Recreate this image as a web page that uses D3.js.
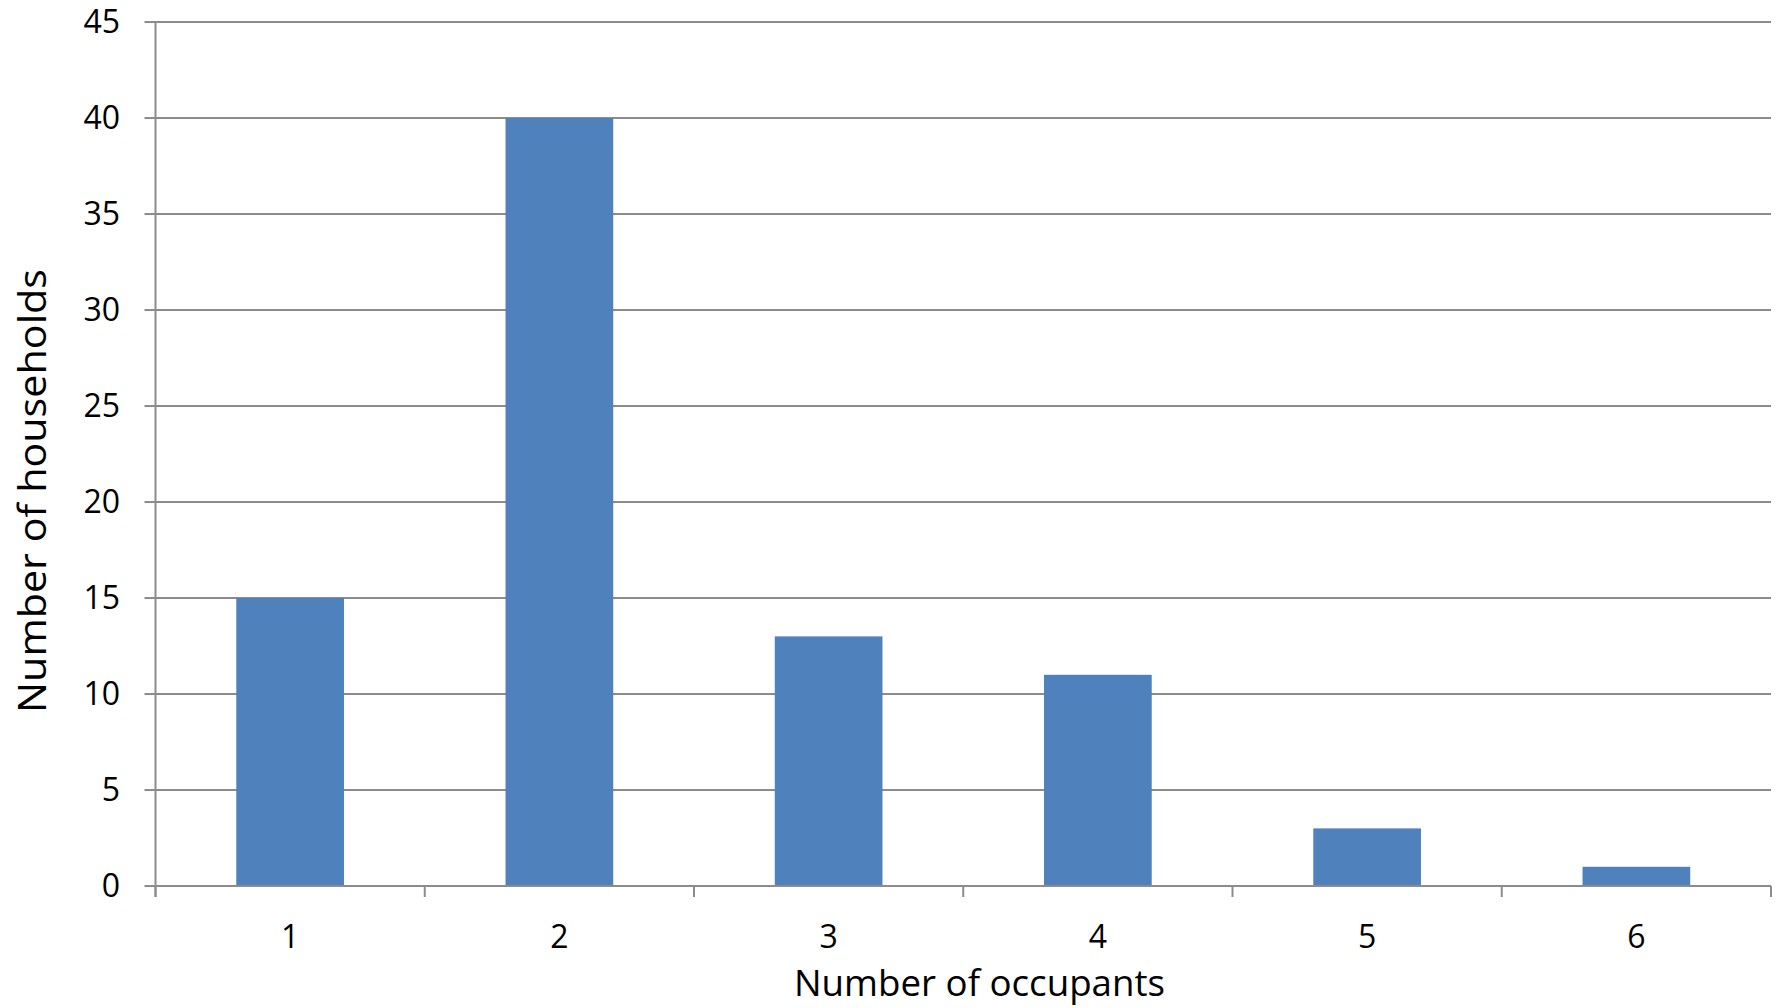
<!DOCTYPE html>
<html><head><meta charset="utf-8">
<script src="https://cdn.jsdelivr.net/npm/d3@7"></script>
<style>body{margin:0;background:#fff}svg{display:block}text{font-family:"Open Sans",sans-serif;fill:#000}</style>
</head><body>
<svg id="c" width="1782" height="1008"></svg>
<script>
const categories = ["1","2","3","4","5","6"];
const values = [15, 40, 13, 11, 3, 1];
const yTicks = [0,5,10,15,20,25,30,35,40,45];
const xTitle = "Number of occupants";
const yTitle = "Number of households";

const svg = d3.select("#c");
const L = 155.5, R = 1771, T = 22, B = 886;
const x = d3.scaleBand().domain(categories).range([L, R]).paddingInner(0.6).paddingOuter(0.3);
const xb = d3.scaleBand().domain(categories).range([L, R]);
const y = d3.scaleLinear().domain([0, 45]).range([B, T]);

svg.append("g").selectAll("line").data(yTicks).join("line")
  .attr("x1", L - 11).attr("x2", R).attr("y1", d => y(d)).attr("y2", d => y(d))
  .attr("stroke", "#8c8c8c").attr("stroke-width", 2);

svg.append("g").selectAll("rect").data(values).join("rect")
  .attr("x", (d,i) => x(categories[i])).attr("width", x.bandwidth())
  .attr("y", d => y(d)).attr("height", d => y(0) - y(d))
  .attr("fill", "#4F81BD");

svg.append("line").attr("x1", L).attr("x2", L).attr("y1", T).attr("y2", B + 11)
  .attr("stroke", "#8c8c8c").attr("stroke-width", 2);
svg.append("line").attr("x1", L).attr("x2", R).attr("y1", B).attr("y2", B)
  .attr("stroke", "#8c8c8c").attr("stroke-width", 2);
const xEdges = categories.map(c => xb(c)).concat([R]);
svg.append("g").selectAll("line").data(xEdges).join("line")
  .attr("x1", d => d).attr("x2", d => d).attr("y1", B).attr("y2", B + 11)
  .attr("stroke", "#8c8c8c").attr("stroke-width", 2);

svg.append("g").selectAll("text").data(yTicks).join("text")
  .attr("x", 120).attr("y", d => y(d)).attr("dy", "0.35em")
  .attr("text-anchor", "end").style("font-size", "32px").text(d => d);

svg.append("g").selectAll("text").data(categories).join("text")
  .attr("x", d => xb(d) + xb.bandwidth()/2).attr("y", 937).attr("dy", "0.35em")
  .attr("text-anchor", "middle").style("font-size", "32px").text(d => d);

svg.append("text").attr("x", 979.5).attr("y", 996).attr("text-anchor", "middle")
  .style("font-size", "37px").attr("textLength", 371).attr("lengthAdjust", "spacingAndGlyphs").text(xTitle);
svg.append("text").attr("transform", "translate(46,491) rotate(-90)").attr("text-anchor", "middle")
  .style("font-size", "38px").attr("textLength", 444).attr("lengthAdjust", "spacingAndGlyphs").text(yTitle);
</script>
</body></html>
